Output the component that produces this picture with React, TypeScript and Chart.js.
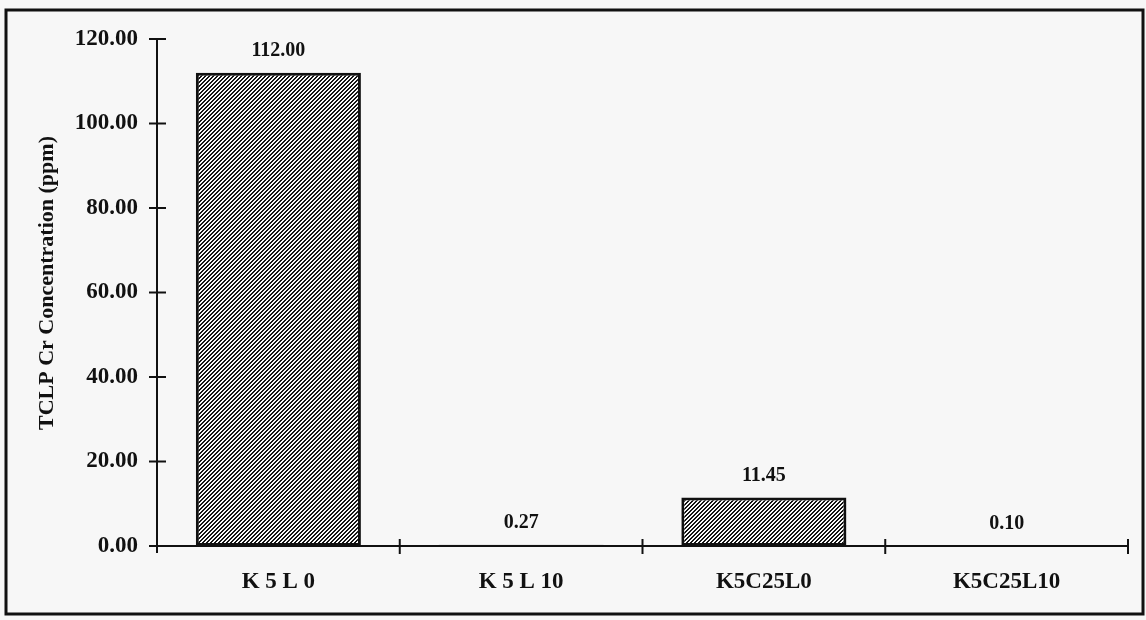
import React, { useEffect, useRef } from "react";
import { Chart, registerables } from "chart.js";

Chart.register(...registerables);

const categories = ["K 5 L 0", "K 5 L 10", "K5C25L0", "K5C25L10"];
const concentrations = [112.0, 0.27, 11.45, 0.1];
const yTicks = [0, 20, 40, 60, 80, 100, 120];
const yTitle = "TCLP Cr Concentration (ppm)";

const FONT = "'Liberation Serif', 'Times New Roman', serif";
const INK = "#111111";
const BG = "#f7f7f7";

function makeHatch(): CanvasPattern | string {
  const c = document.createElement("canvas");
  c.width = 4;
  c.height = 4;
  const ctx = c.getContext("2d");
  if (!ctx) return "#777";
  const img = ctx.createImageData(4, 4);
  for (let y = 0; y < 4; y++) {
    for (let x = 0; x < 4; x++) {
      const k = (x + y) % 4;
      const dark = k === 0 || k === 1;
      const i = (y * 4 + x) * 4;
      const v = dark ? 20 : 250;
      img.data[i] = v;
      img.data[i + 1] = v;
      img.data[i + 2] = v;
      img.data[i + 3] = 255;
    }
  }
  ctx.putImageData(img, 0, 0);
  const p = ctx.createPattern(c, "repeat");
  return p || "#777";
}

const framePlugin = {
  id: "frameAndAxes",
  beforeDraw(chart: any) {
    const ctx = chart.ctx;
    ctx.save();
    ctx.fillStyle = BG;
    ctx.fillRect(0, 0, chart.width, chart.height);
    ctx.strokeStyle = INK;
    ctx.lineWidth = 3;
    ctx.strokeRect(6, 10, 1137, 604);
    // y title
    ctx.fillStyle = INK;
    ctx.font = `bold 22px ${FONT}`;
    ctx.textAlign = "center";
    ctx.textBaseline = "middle";
    ctx.translate(47, 283);
    ctx.rotate(-Math.PI / 2);
    ctx.fillText(yTitle, 0, 0);
    ctx.restore();
  },
  beforeDatasetsDraw(chart: any) {
    const ctx = chart.ctx;
    const xs = chart.scales.x;
    const ys = chart.scales.y;
    const area = chart.chartArea;
    ctx.save();
    ctx.strokeStyle = INK;
    ctx.lineWidth = 2;
    // y axis
    ctx.beginPath();
    ctx.moveTo(area.left, area.top);
    ctx.lineTo(area.left, area.bottom + 7);
    ctx.stroke();
    yTicks.forEach((v) => {
      const py = ys.getPixelForValue(v);
      ctx.beginPath();
      ctx.moveTo(area.left - 8, py);
      ctx.lineTo(area.left + (v === 0 ? 0 : 9), py);
      ctx.stroke();
    });
    // x axis
    const by = ys.getPixelForValue(0);
    ctx.beginPath();
    ctx.moveTo(area.left, by);
    ctx.lineTo(area.right, by);
    ctx.stroke();
    const half = (xs.getPixelForValue(1) - xs.getPixelForValue(0)) / 2;
    for (let i = 0; i < categories.length; i++) {
      const bx = xs.getPixelForValue(i) + half;
      ctx.beginPath();
      ctx.moveTo(bx, by - 7);
      ctx.lineTo(bx, by + 8);
      ctx.stroke();
    }
    ctx.restore();
  },
  afterDatasetsDraw(chart: any) {
    const ctx = chart.ctx;
    ctx.save();
    ctx.fillStyle = INK;
    ctx.font = `bold 20px ${FONT}`;
    ctx.textAlign = "center";
    ctx.textBaseline = "middle";
    const meta = chart.getDatasetMeta(0);
    meta.data.forEach((el: any, i: number) => {
      ctx.fillText(concentrations[i].toFixed(2), el.x, el.y - 22);
    });
    ctx.restore();
  },
};

export default function App() {
  const ref = useRef<HTMLCanvasElement | null>(null);

  useEffect(() => {
    if (!ref.current) return;
    const hatch = makeHatch();
    const chart = new Chart(ref.current, {
      type: "bar",
      data: {
        labels: categories,
        datasets: [
          {
            data: concentrations,
            backgroundColor: hatch as any,
            borderColor: INK,
            borderWidth: 3,
            borderSkipped: false,
            barPercentage: 0.68,
            categoryPercentage: 1,
          },
        ],
      },
      options: {
        animation: false,
        responsive: false,
        devicePixelRatio: 1,
        layout: { padding: { top: 39, right: 18, bottom: 0, left: 0 } },
        plugins: {
          legend: { display: false },
          tooltip: { enabled: false },
        },
        scales: {
          x: {
            grid: { display: false, drawTicks: false },
            border: { display: false },
            ticks: {
              color: INK,
              font: { family: FONT, size: 23, weight: "bold" },
              padding: 22,
              maxRotation: 0,
              autoSkip: false,
            },
            afterFit: (s: any) => {
              s.height = 74;
            },
          },
          y: {
            min: 0,
            max: 120,
            grid: { display: false, drawTicks: false },
            border: { display: false },
            ticks: {
              stepSize: 20,
              color: INK,
              font: { family: FONT, size: 23, weight: "bold" },
              padding: 19,
              callback: (v: any) => Number(v).toFixed(2),
            },
            afterFit: (s: any) => {
              s.width = 157;
            },
          },
        },
      },
      plugins: [framePlugin],
    });
    return () => chart.destroy();
  }, []);

  return (
    <div style={{ position: "fixed", left: 0, top: 0, width: 1146, height: 620, background: BG }}>
      <canvas ref={ref} width={1146} height={620} style={{ width: 1146, height: 620, display: "block" }} />
    </div>
  );
}
